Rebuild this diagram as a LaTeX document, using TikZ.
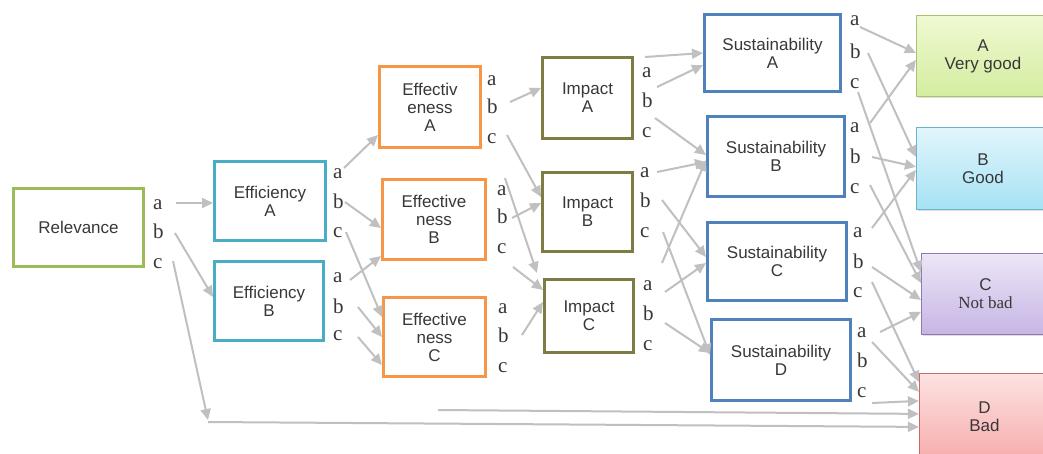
\documentclass[tikz,border=0pt]{standalone}
\usepackage{fontspec}
\setmainfont{Liberation Serif}
\setsansfont{Liberation Sans}
\usetikzlibrary{arrows.meta,shadows}
\definecolor{relcol}{HTML}{9BBB59}
\definecolor{fycol}{HTML}{4BACC6}
\definecolor{tvcol}{HTML}{F79646}
\definecolor{imcol}{HTML}{7F7B45}
\definecolor{sucol}{HTML}{4F81BD}
\definecolor{arrgray}{HTML}{C0C0C0}
\definecolor{txtcol}{HTML}{383838}
\definecolor{rAtop}{HTML}{F0F9D2}
\definecolor{rAbot}{HTML}{D3EDA0}
\definecolor{rAbd}{HTML}{A9C46E}
\definecolor{rBtop}{HTML}{E2F6FC}
\definecolor{rBbot}{HTML}{A6E2F4}
\definecolor{rBbd}{HTML}{6BB3CC}
\definecolor{rCtop}{HTML}{EDE6F6}
\definecolor{rCbot}{HTML}{C6B5E4}
\definecolor{rCbd}{HTML}{8E7AAE}
\definecolor{rDtop}{HTML}{FDE2E2}
\definecolor{rDbot}{HTML}{F7ACAC}
\definecolor{rDbd}{HTML}{C96A6A}
\begin{document}
\begin{tikzpicture}[x=1pt,y=-1pt,
  box/.style={draw, line width=3pt, fill=white, align=center, inner sep=0pt,
    font=\sffamily\fontsize{17}{18}\selectfont, text=txtcol},
  lab/.style={font=\fontsize{21}{21}\selectfont, text=txtcol, anchor=base west, inner sep=0pt},
  arr/.style={draw=arrgray, line width=2pt, -{Triangle[length=11pt,width=10pt]}},
  res/.style={draw, line width=1.2pt, align=center, inner sep=0pt,
    font=\sffamily\fontsize{17}{18}\selectfont, text=txtcol,
    drop shadow={opacity=0.25, shadow xshift=1.5pt, shadow yshift=-1.5pt}}]
\useasboundingbox (0,0) rectangle (1043,453);
\clip (0,0) rectangle (1043,453);
\fill[white] (0,0) rectangle (1043,453);

% boxes
\node[box, draw=relcol, minimum width=130pt, minimum height=78pt] (rel) at (78.5,227.5) {Relevance};
\node[box, draw=fycol, minimum width=111pt, minimum height=79pt] (fyA) at (270,201) {Efficiency\\A};
\node[box, draw=fycol, minimum width=109pt, minimum height=79pt] (fyB) at (269,301) {Efficiency\\B};
\node[box, draw=tvcol, minimum width=101pt, minimum height=81pt] (tvA) at (430,107) {Effectiv\\eness\\A};
\node[box, draw=tvcol, minimum width=103pt, minimum height=80pt] (tvB) at (434,219.5) {Effective\\ness\\B};
\node[box, draw=tvcol, minimum width=102pt, minimum height=79pt] (tvC) at (434.5,337) {Effective\\ness\\C};
\node[box, draw=imcol, minimum width=90pt, minimum height=81pt] (imA) at (587.5,98) {Impact\\A};
\node[box, draw=imcol, minimum width=90pt, minimum height=79pt] (imB) at (587.5,212) {Impact\\B};
\node[box, draw=imcol, minimum width=89pt, minimum height=73pt] (imC) at (589,316) {Impact\\C};
\node[box, draw=sucol, minimum width=136pt, minimum height=77pt] (suA) at (772.5,53) {Sustainability\\A};
\node[box, draw=sucol, minimum width=137pt, minimum height=80pt] (suB) at (776,156.5) {Sustainability\\B};
\node[box, draw=sucol, minimum width=139pt, minimum height=78pt] (suC) at (777,261.5) {Sustainability\\C};
\node[box, draw=sucol, minimum width=139pt, minimum height=81pt] (suD) at (781,360) {Sustainability\\D};

% result boxes
\node[res, draw=rAbd, top color=rAtop, bottom color=rAbot, minimum width=133pt, minimum height=81pt] (rA) at (983,56) {A\\Very good};
\node[res, draw=rBbd, top color=rBtop, bottom color=rBbot, minimum width=133pt, minimum height=82pt] (rB) at (983,168.5) {B\\Good};
\node[res, draw=rCbd, top color=rCtop, bottom color=rCbot, minimum width=128pt, minimum height=81pt] (rC) at (985.5,294) {C\\{\rmfamily Not bad}};
\node[res, draw=rDbd, top color=rDtop, bottom color=rDbot, minimum width=130pt, minimum height=86pt] (rD) at (984.5,416.5) {D\\Bad};

% labels
\foreach \nm/\x/\ya/\yb/\yc in {rel/153/209/238/268, fyA/333/178/208/237, fyB/333/282/313/340,
  tvA/487/85/113/143, tvB/497/195/223/253, tvC/498/313/342/372,
  imA/642/77/107/137, imB/640/177/207/237, imC/643/290/320/350,
  suA/850/25/58/88, suB/850/132/163/193, suC/853/237/268/297, suD/857/337/367/397}{
  \node[lab] (\nm-a) at (\x,\ya) {a};
  \node[lab] (\nm-b) at (\x,\yb) {b};
  \node[lab] (\nm-c) at (\x,\yc) {c};
}

% free points
\coordinate (corner) at (208,420);
\coordinate (cornerh) at (208,422);
\coordinate (freel) at (438,410);

% Relevance
\draw[arr] ([shift={(23,-6)}]rel-a.base west) -- ([shift={(0,43)}]fyA.north west);
\draw[arr] ([shift={(22,-5)}]rel-b.base west) -- ([shift={(0,37)}]fyB.north west);
\draw[arr] ([shift={(20,-7)}]rel-c.base west) -- (corner);
\draw[arr] (cornerh) -- ([shift={(0,54)}]rD.north west);
\draw[arr] (freel) -- ([shift={(0,41)}]rD.north west);

% Efficiency
\draw[arr] ([shift={(11,-10)}]fyA-a.base west) -- ([shift={(0,70)}]tvA.north west);
\draw[arr] ([shift={(12,-6)}]fyA-b.base west) -- ([shift={(0,50)}]tvB.north west);
\draw[arr] ([shift={(13,-5)}]fyA-c.base west) -- ([shift={(0,21)}]tvC.north west);
\draw[arr] ([shift={(17,-2)}]fyB-a.base west) -- ([shift={(0,78)}]tvB.north west);
\draw[arr] ([shift={(25,-6)}]fyB-b.base west) -- ([shift={(0,41)}]tvC.north west);
\draw[arr] ([shift={(25,-3)}]fyB-c.base west) -- ([shift={(0,69)}]tvC.north west);

% Effectiveness
\draw[arr] ([shift={(23,-11)}]tvA-b.base west) -- ([shift={(0,32)}]imA.north west);
\draw[arr] ([shift={(20,-8)}]tvA-c.base west) -- ([shift={(0,26)}]imB.north west);
\draw[arr] ([shift={(8,-17)}]tvB-a.base west) -- ([shift={(-6,-5)}]imC.north west);
\draw[arr] ([shift={(15,-5)}]tvB-b.base west) -- ([shift={(0,32)}]imB.north west);
\draw[arr] ([shift={(16,14)}]tvB-c.base west) -- ([shift={(0,12)}]imC.north west);
\draw[arr] ([shift={(24,-7)}]tvC-b.base west) -- ([shift={(0,24)}]imC.north west);

% Impact
\draw[arr] ([shift={(11,1)}]imA.north east) -- ([shift={(0,40)}]suA.north west);
\draw[arr] ([shift={(15,10)}]imA-a.base west) -- ([shift={(0,52)}]suA.north west);
\draw[arr] ([shift={(13,11)}]imA-b.base west) -- ([shift={(0,40)}]suB.north west);
\draw[arr] ([shift={(17,-5)}]imB-a.base west) -- ([shift={(0,47)}]suB.north west);
\draw[arr] ([shift={(22,-7)}]imB-b.base west) -- ([shift={(0,36)}]suC.north west);
\draw[arr] ([shift={(23,-5)}]imB-c.base west) -- ([shift={(0,37)}]suD.north west);
\draw[arr] ([shift={(19,-27)}]imC-a.base west) -- ([shift={(0,45)}]suB.north west);
\draw[arr] ([shift={(22,2)}]imC-a.base west) -- ([shift={(0,42)}]suC.north west);
\draw[arr] ([shift={(22,3)}]imC-b.base west) -- ([shift={(0,35)}]suD.north west);

% Sustainability
\draw[arr] ([shift={(10,2)}]suA-a.base west) -- ([shift={(0,38)}]rA.north west);
\draw[arr] ([shift={(18,-5)}]suA-b.base west) -- ([shift={(0,30)}]rB.north west);
\draw[arr] ([shift={(8,4)}]suA-c.base west) -- ([shift={(0,19)}]rC.north west);
\draw[arr] ([shift={(20,-9)}]suB-a.base west) -- ([shift={(0,45)}]rA.north west);
\draw[arr] ([shift={(22,-6)}]suB-b.base west) -- ([shift={(0,40)}]rB.north west);
\draw[arr] ([shift={(20,-8)}]suB-c.base west) -- ([shift={(0,30)}]rC.north west);
\draw[arr] ([shift={(19,-9)}]suC-a.base west) -- ([shift={(0,43)}]rB.north west);
\draw[arr] ([shift={(19,-1)}]suC-b.base west) -- ([shift={(0,47)}]rC.north west);
\draw[arr] ([shift={(19,-15)}]suC-c.base west) -- ([shift={(0,9)}]rD.north west);
\draw[arr] ([shift={(23,-5)}]suD-a.base west) -- ([shift={(0,59)}]rC.north west);
\draw[arr] ([shift={(15,5)}]suD-a.base west) -- ([shift={(0,19)}]rD.north west);
\draw[arr] ([shift={(15,6)}]suD-c.base west) -- ([shift={(0,28)}]rD.north west);
\end{tikzpicture}
\end{document}
